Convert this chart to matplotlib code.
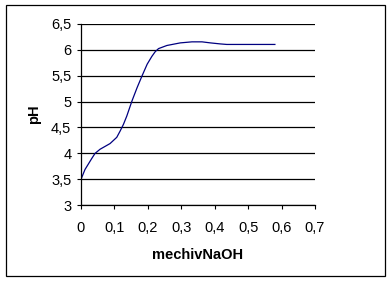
import matplotlib
matplotlib.use('Agg')
import matplotlib.pyplot as plt
from matplotlib.ticker import FuncFormatter
from matplotlib.patches import Rectangle

# DONNEES
mechivNaOH = [0.0, 0.012, 0.032, 0.042, 0.057, 0.087, 0.107, 0.117, 0.127,
              0.137, 0.145, 0.153, 0.168, 0.183, 0.198, 0.212, 0.222, 0.232,
              0.257, 0.297, 0.332, 0.362, 0.387, 0.417, 0.436, 0.58]
pH = [3.5, 3.69, 3.90, 4.0, 4.08, 4.19, 4.31, 4.43, 4.56,
      4.72, 4.87, 5.02, 5.27, 5.5, 5.72, 5.87, 5.96, 6.02,
      6.08, 6.13, 6.15, 6.15, 6.13, 6.11, 6.10, 6.10]

xticks = [0, 0.1, 0.2, 0.3, 0.4, 0.5, 0.6, 0.7]
yticks = [3, 3.5, 4, 4.5, 5, 5.5, 6, 6.5]

plt.rcParams['font.family'] = ['Liberation Sans', 'DejaVu Sans']

fig = plt.figure(figsize=(3.92, 2.81), dpi=100)
fig.patch.set_facecolor('white')
ax = fig.add_axes([0.2066, 0.2694, 0.5970, 0.6463])

ax.plot(mechivNaOH, pH, color='#000080', lw=0.9)

ax.set_xlim(0, 0.7)
ax.set_ylim(3, 6.5)
ax.set_xticks(xticks)
ax.set_yticks(yticks)

virgule = FuncFormatter(lambda v, p: ('%g' % round(v, 2)).replace('.', ','))
ax.xaxis.set_major_formatter(virgule)
ax.yaxis.set_major_formatter(virgule)

ax.grid(True, axis='y', color='black', lw=0.9)
ax.set_axisbelow(True)
for s in ['top', 'right']:
    ax.spines[s].set_visible(False)
for s in ['left', 'bottom']:
    ax.spines[s].set_linewidth(0.9)

ax.tick_params(axis='x', direction='out', length=3, width=0.8, pad=8.5, labelsize=10.5)
ax.tick_params(axis='y', direction='out', length=3, width=0.8, pad=4, labelsize=10.5)

ax.set_xlabel('mechivNaOH', fontweight='bold', fontsize=10.5, labelpad=9)
ax.set_ylabel('pH', fontweight='bold', fontsize=10.5, labelpad=7)

# cadre exterieur
fig.patches.append(Rectangle((6/392, 1-276/281), 379/392, 271/281,
                             transform=fig.transFigure, fill=False,
                             edgecolor='black', lw=0.9))

fig.savefig('out.png', dpi=100)
